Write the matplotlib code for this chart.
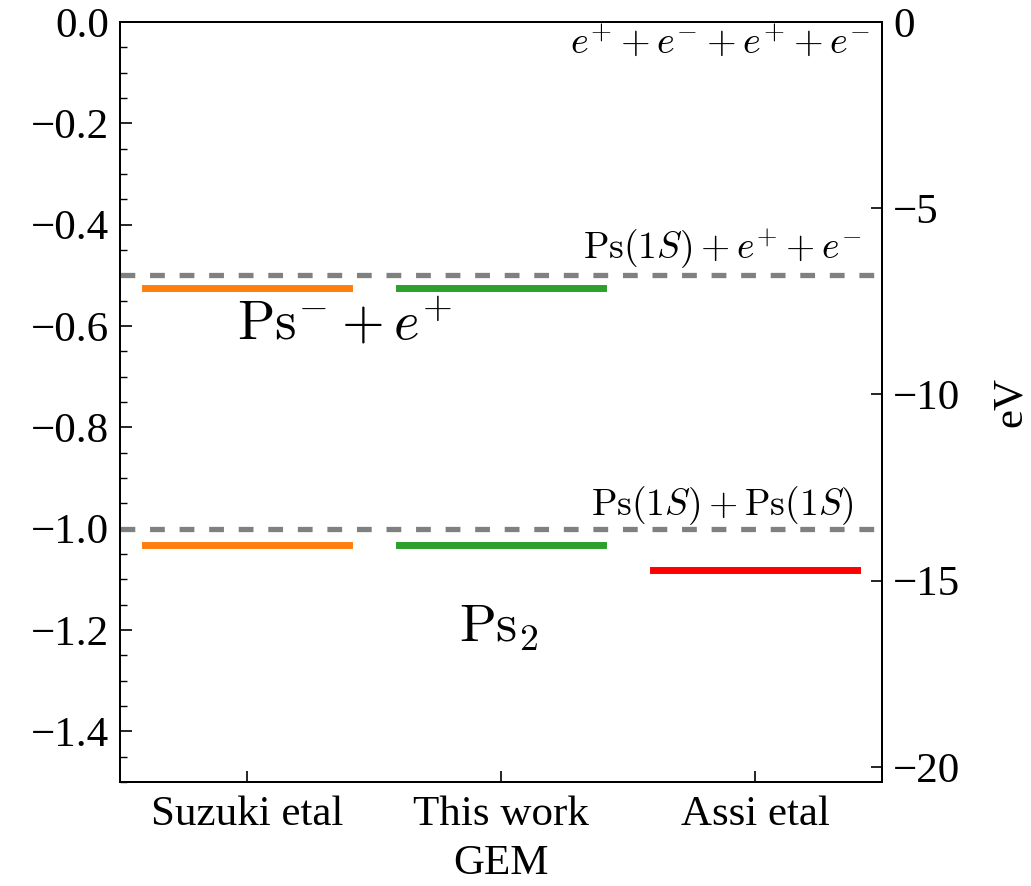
import matplotlib
matplotlib.use("Agg")
import matplotlib.pyplot as plt
from matplotlib.ticker import MultipleLocator

RY_EV = 13.6057  # energy unit on the left axis, in eV

methods    = ["Suzuki etal", "This work\nGEM", "Assi etal"]
colors     = ["tab:orange", "tab:green", "red"]
e_psminus  = [-0.525, -0.525, None]      # Ps^- + e^+ energies
e_ps2      = [-1.033, -1.033, -1.081]    # Ps2 energies

thresholds       = [-0.5, -1.0]
threshold_labels = [r"$\mathrm{Ps}(1S)+e^{+}+e^{-}$",
                    r"$\mathrm{Ps}(1S)+\mathrm{Ps}(1S)$"]
top_label        = r"$e^{+}+e^{-}+e^{+}+e^{-}$"

plt.rcParams["font.family"] = ["Liberation Serif", "DejaVu Serif"]
plt.rcParams["mathtext.fontset"] = "cm"
plt.rcParams["font.size"] = 31

fig = plt.figure(figsize=(10.31, 8.86), dpi=100)
ax = fig.add_axes([0.1164, 0.1174, 0.7391, 0.8578])

for sp in ax.spines.values():
    sp.set_linewidth(1.4)

# dashed dissociation thresholds
for y in thresholds:
    ax.axhline(y, color="gray", lw=3.8, dashes=(2.8, 2.8))

# energy levels, one short bar per method
half = 0.4
for i, (c, e1, e2) in enumerate(zip(colors, e_psminus, e_ps2)):
    if e1 is not None:
        ax.plot([i - half, i + half], [e1, e1], color=c, lw=5)
    ax.plot([i - half, i + half], [e2, e2], color=c, lw=5)

ax.text(2.455, -0.061, top_label, ha="right", va="baseline", fontsize=27.5)
ax.text(2.42, -0.468, threshold_labels[0], ha="right", va="baseline", fontsize=27)
ax.text(2.39, -0.973, threshold_labels[1], ha="right", va="baseline", fontsize=27)
ax.text(0.384, -0.626, r"$\mathrm{Ps}^{-}+e^{+}$", ha="center", va="baseline", fontsize=39.5)
ax.text(0.99, -1.224, r"$\mathrm{Ps}_{2}$", ha="center", va="baseline", fontsize=39)

ax.set_xlim(-0.5, 2.5)
ax.set_ylim(-1.5, 0.0)
ax.set_xticks(range(len(methods)))
ax.set_xticklabels(methods, linespacing=1.35)
ax.yaxis.set_major_locator(MultipleLocator(0.2))
ax.yaxis.set_minor_locator(MultipleLocator(0.05))
ax.tick_params(axis="y", which="major", direction="in", length=8.6, width=1.2, pad=8)
ax.tick_params(axis="y", which="minor", direction="in", length=5, width=1.0)
ax.tick_params(axis="x", direction="in", length=8, width=1.2, pad=10)

# same scale in eV on the right
ax2 = ax.twinx()
ax2.set_ylim(-1.5 * RY_EV, 0.0)
ax2.yaxis.set_major_locator(MultipleLocator(5))
ax2.tick_params(axis="y", direction="in", length=8, width=1.2, pad=8)
ax2.set_ylabel("eV", labelpad=22)
for sp in ax2.spines.values():
    sp.set_linewidth(1.4)

fig.savefig("out.png", dpi=100)
